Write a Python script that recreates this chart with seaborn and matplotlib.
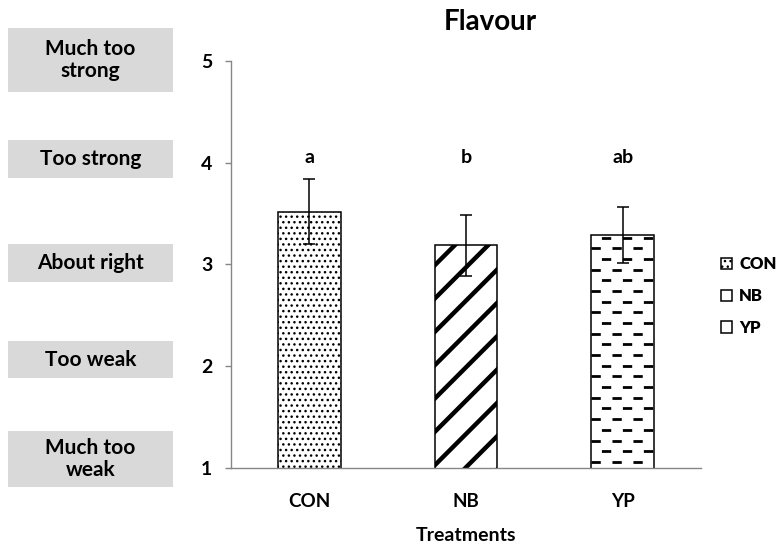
import numpy as np
import pandas as pd
import matplotlib
matplotlib.use("Agg")
import matplotlib.pyplot as plt
from matplotlib.patches import Rectangle
from matplotlib.font_manager import FontProperties
import seaborn as sns

# Sensory scores for flavour intensity (JAR scale, mean ± SE)
treatments = ["CON", "NB", "YP"]
flavour_mean = [3.52, 3.19, 3.29]
flavour_se = [0.32, 0.30, 0.28]
group_letters = ["a", "b", "ab"]
scale_ticks = [1, 2, 3, 4, 5]
scale_words = ["Much too\nweak", "Too weak", "About right", "Too strong", "Much too\nstrong"]

sns.set_theme(style="white")
plt.rcParams["font.family"] = ["Lato", "DejaVu Sans"]
plt.rcParams["font.weight"] = "bold"

W, H = 782, 552
fig = plt.figure(figsize=(W / 100, H / 100), dpi=100)
ax = fig.add_axes([231 / W, 1 - 468 / H, (701 - 231) / W, (468 - 61) / H])

df = pd.DataFrame({"Treatment": treatments, "Flavour": flavour_mean})
sns.barplot(data=df, x="Treatment", y="Flavour", order=treatments,
            color="white", width=0.4, errorbar=None, ax=ax,
            edgecolor="black", linewidth=1.1)

ax.errorbar(treatments, flavour_mean, yerr=flavour_se, fmt="none",
            ecolor="black", elinewidth=1.1, capsize=4, capthick=1.1, zorder=5)

bars = list(ax.patches)
hatches = ["...", "/", ""]
hatch_widths = [1.0, 3.2, 1.0]
for bar, h, hw in zip(bars, hatches, hatch_widths):
    bar.set_hatch(h)
    if hasattr(bar, "set_hatch_linewidth"):
        bar.set_hatch_linewidth(hw)
    if hasattr(bar, "set_hatchcolor"):
        bar.set_hatchcolor("black")

ax.set_ylim(1, 5)
ax.set_xlim(-0.5, 2.5)
ax.set_yticks(scale_ticks)
ax.set_yticklabels([str(t) for t in scale_ticks])

# staggered dash texture for the YP bar (dash lengths given in points)
yp = bars[2]
x0 = yp.get_x()
x1 = x0 + yp.get_width()
dash_lw = 2.0
on_pt, off_pt, shift_pt = 6.7, 8.4, 7.6
row_step = 0.105
for k, yr in enumerate(np.arange(1.06, 5.0, row_step)):
    offset = 0.0 if k % 2 == 0 else shift_pt
    ln, = ax.plot([x0, x1], [yr, yr], color="black", lw=dash_lw,
                  linestyle=(offset / dash_lw, (on_pt / dash_lw, off_pt / dash_lw)),
                  dash_capstyle="butt", zorder=3)
    ln.set_clip_path(yp)

# significance letters above the bars
for bar, letter in zip(bars, group_letters):
    ax.text(bar.get_x() + bar.get_width() / 2, 4.05, letter,
            ha="center", va="center", fontsize=14, fontweight="bold", color="black")

for side in ["top", "right"]:
    ax.spines[side].set_visible(False)
for side in ["left", "bottom"]:
    ax.spines[side].set_color("#868686")
    ax.spines[side].set_linewidth(1.0)

ax.tick_params(axis="y", which="both", left=True, length=4, width=1.0,
               color="#868686", pad=9.5, labelsize=14, labelcolor="black", direction="out")
ax.tick_params(axis="x", bottom=False, pad=12, labelsize=13.5, labelcolor="black")
for lab in ax.get_xticklabels() + ax.get_yticklabels():
    lab.set_fontweight("bold")

ax.set_ylabel("")
ax.set_xlabel("Treatments", fontsize=14, fontweight="bold", labelpad=12, color="black")

fig.text(490 / W, 1 - 22 / H, "Flavour", ha="center", va="center",
         fontsize=20, fontweight="bold", color="black")

# descriptive scale boxes on the left
box_geom = [(431, 487), (341, 378), (244, 282), (140, 178), (28, 92)]
for (top, bot), word in zip(box_geom, scale_words):
    fig.patches.append(Rectangle((8 / W, 1 - bot / H), (173 - 8) / W, (bot - top) / H,
                                 transform=fig.transFigure, facecolor="#d9d9d9",
                                 edgecolor="none", zorder=0))
    fig.text((8 + 173) / 2 / W, 1 - (top + bot) / 2 / H, word, ha="center", va="center",
             fontsize=15, fontweight="bold", color="black", linespacing=1.1)

leg_font = FontProperties(family=["Lato", "DejaVu Sans"], weight="heavy", size=12)
leg = fig.legend(handles=bars, labels=treatments, loc="center left",
                 bbox_to_anchor=(721 / W, 1 - 296 / H), frameon=False,
                 prop=leg_font, handlelength=0.65,
                 handleheight=0.65, handletextpad=0.45, labelspacing=0.95,
                 borderaxespad=0, borderpad=0)
for t in leg.get_texts():
    t.set_color("black")

fig.savefig("out.png", dpi=100)
